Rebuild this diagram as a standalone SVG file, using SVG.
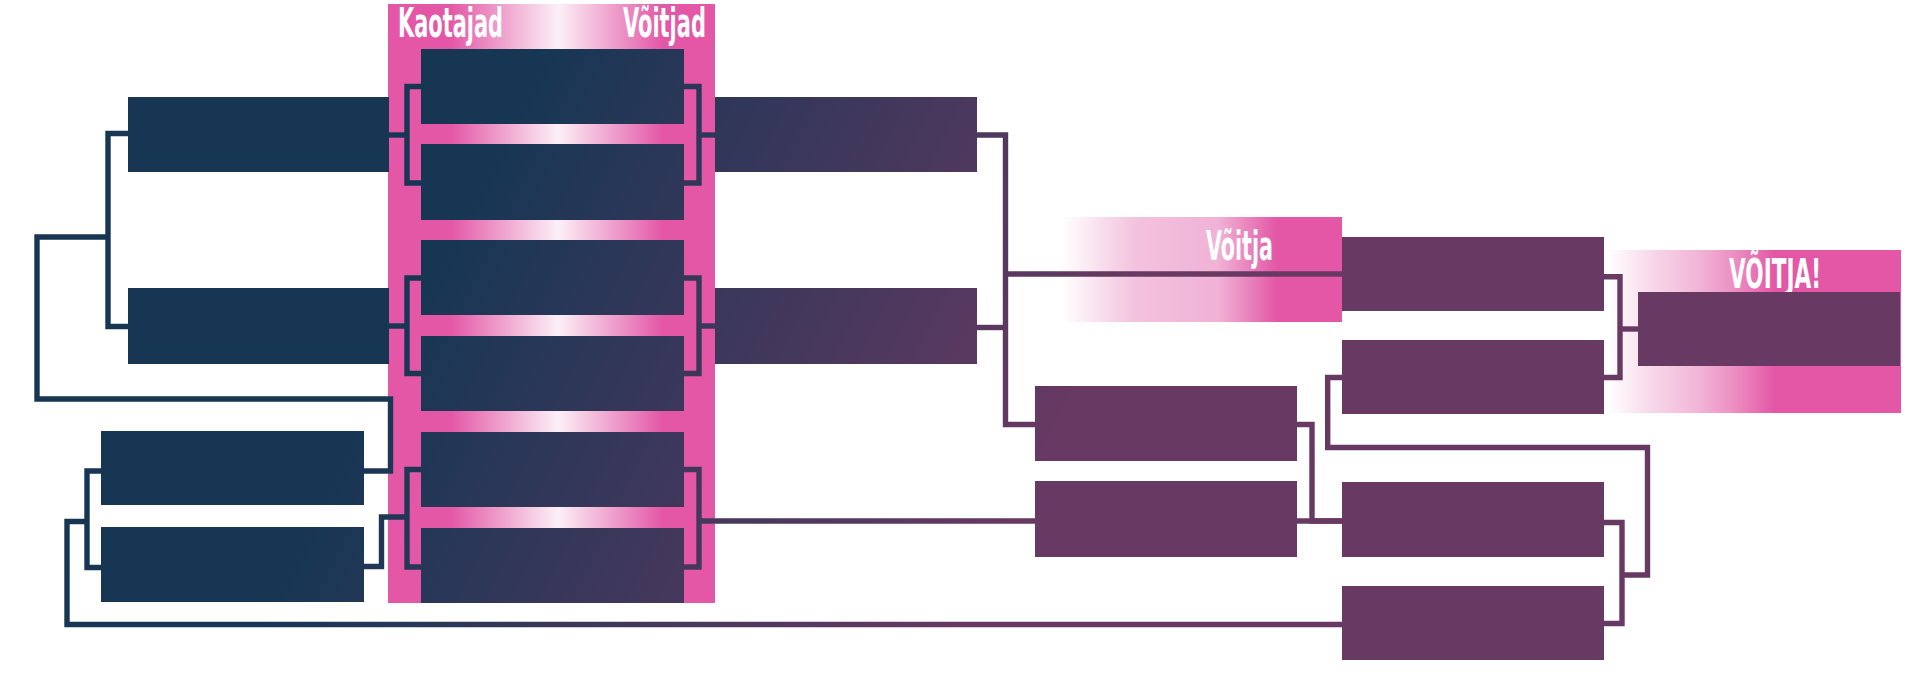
<svg xmlns="http://www.w3.org/2000/svg" width="1920" height="685" viewBox="0 0 1920 685">
<defs>
<linearGradient id="boxGrad" gradientUnits="userSpaceOnUse" x1="560" y1="0" x2="1136" y2="288">
<stop offset="0" stop-color="#163654"/>
<stop offset="1" stop-color="#683963"/>
</linearGradient>
<linearGradient id="colGrad" x1="0" y1="0" x2="1" y2="0">
<stop offset="0" stop-color="#E357A6"/>
<stop offset="0.19" stop-color="#E357A6"/>
<stop offset="0.52" stop-color="#FCF0F7"/>
<stop offset="0.84" stop-color="#E357A6"/>
<stop offset="1" stop-color="#E357A6"/>
</linearGradient>
<linearGradient id="semiGrad" x1="0" y1="0" x2="1" y2="0">
<stop offset="0" stop-color="#FFFFFF"/>
<stop offset="0.05" stop-color="#FFFFFF"/>
<stop offset="0.3" stop-color="#F3C2DE"/>
<stop offset="0.58" stop-color="#F0B2D5"/>
<stop offset="0.78" stop-color="#E357A6"/>
<stop offset="1" stop-color="#E357A6"/>
</linearGradient>
<linearGradient id="finalGrad" x1="0" y1="0" x2="1" y2="0">
<stop offset="0" stop-color="#FFFFFF"/>
<stop offset="0.16" stop-color="#F7D5E8"/>
<stop offset="0.3" stop-color="#F2B7D8"/>
<stop offset="0.43" stop-color="#EC8FC2"/>
<stop offset="0.57" stop-color="#E357A6"/>
<stop offset="1" stop-color="#E357A6"/>
</linearGradient>
</defs>
<style>
.box { fill: url(#boxGrad); }
.wire { fill: none; stroke: url(#boxGrad); stroke-width: 5.4; stroke-linejoin: miter; }
.lbl { font-family: "Liberation Sans Narrow", "DejaVu Sans Condensed", "Liberation Sans", sans-serif; font-weight: bold; font-size: 40px; fill: #FFFFFF; }
</style>
<rect width="1920" height="685" fill="#FFFFFF"/>

<g id="bands">
<rect x="388" y="4" width="327" height="599" fill="url(#colGrad)"/>
<rect x="1047" y="217" width="295" height="105" fill="url(#semiGrad)"/>
<rect x="1608" y="250" width="293" height="163" fill="url(#finalGrad)"/>
<text class="lbl" x="398" y="37" textLength="105" lengthAdjust="spacingAndGlyphs">Kaotajad</text>
<text class="lbl" x="623" y="37" textLength="83" lengthAdjust="spacingAndGlyphs">Võitjad</text>
<text class="lbl" x="1206" y="260" textLength="67" lengthAdjust="spacingAndGlyphs">Võitja</text>
<text class="lbl" x="1729" y="288" textLength="92" lengthAdjust="spacingAndGlyphs">VÕITJA!</text>
</g>

<g id="connectors">
<path class="wire" d="M128,133.5 H108 V326.5 H128"/>
<path class="wire" d="M108,237 H37 V399 H390.5 V471 H364"/>
<path class="wire" d="M101,471 H87 V567.5 H101"/>
<path class="wire" d="M87,521.5 H67 V624.5 H1342"/>
<path class="wire" d="M364,566.5 H381.5 V517 H407"/>
<path class="wire" d="M421,86.5 H407 V183 H421"/>
<path class="wire" d="M389,135 H407"/>
<path class="wire" d="M684,86.5 H699 V183 H684"/>
<path class="wire" d="M699,135 H715"/>
<path class="wire" d="M421,278 H407 V373.5 H421"/>
<path class="wire" d="M389,326 H407"/>
<path class="wire" d="M684,278 H699 V373.5 H684"/>
<path class="wire" d="M699,326 H715"/>
<path class="wire" d="M421,469.5 H407 V567 H421"/>
<path class="wire" d="M684,469.5 H699 V567 H684"/>
<path class="wire" d="M699,521 H1035"/>
<path class="wire" d="M977,135 H1005.5 V424.5 H1035"/>
<path class="wire" d="M977,327.5 H1005.5"/>
<path class="wire" d="M1005.5,274 H1342"/>
<path class="wire" d="M1297,424.5 H1312 V521 H1342"/>
<path class="wire" d="M1297,521 H1342"/>
<path class="wire" d="M1604,276.7 H1620 V377.5 H1604"/>
<path class="wire" d="M1620,329 H1638"/>
<path class="wire" d="M1342,377.5 H1327.7 V447.5 H1647.5 V575 H1622"/>
<path class="wire" d="M1604,522.5 H1622 V623.5 H1604"/>
</g>

<g id="l1"><rect class="box" x="128" y="97" width="261" height="75"/></g>
<g id="l2"><rect class="box" x="128" y="288" width="261" height="76"/></g>
<g id="bl1"><rect class="box" x="101" y="431" width="263" height="74"/></g>
<g id="bl2"><rect class="box" x="101" y="527" width="263" height="75"/></g>
<g id="p1"><rect class="box" x="421" y="49" width="263" height="75"/></g>
<g id="p2"><rect class="box" x="421" y="144" width="263" height="76"/></g>
<g id="p3"><rect class="box" x="421" y="240" width="263" height="75"/></g>
<g id="p4"><rect class="box" x="421" y="336" width="263" height="75"/></g>
<g id="p5"><rect class="box" x="421" y="432" width="263" height="75"/></g>
<g id="p6"><rect class="box" x="421" y="528" width="263" height="75"/></g>
<g id="s1"><rect class="box" x="715" y="97" width="262" height="75"/></g>
<g id="s2"><rect class="box" x="715" y="288" width="262" height="76"/></g>
<g id="m1"><rect class="box" x="1035" y="386" width="262" height="75"/></g>
<g id="m2"><rect class="box" x="1035" y="481" width="262" height="76"/></g>
<g id="r1"><rect class="box" x="1342" y="237" width="262" height="74"/></g>
<g id="r2"><rect class="box" x="1342" y="340" width="262" height="74"/></g>
<g id="r3"><rect class="box" x="1342" y="482" width="262" height="75"/></g>
<g id="r4"><rect class="box" x="1342" y="586" width="262" height="74"/></g>
<g id="final"><rect class="box" x="1638" y="292" width="262" height="74"/></g>
</svg>
